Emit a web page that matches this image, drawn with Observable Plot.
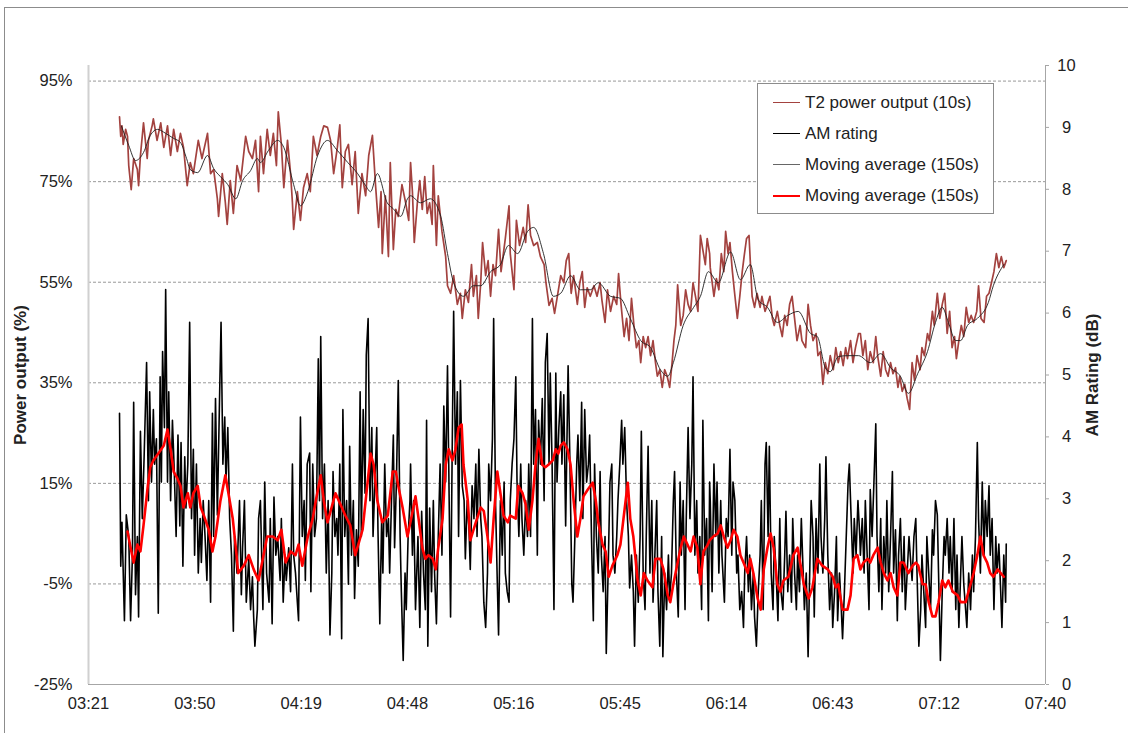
<!DOCTYPE html>
<html>
<head>
<meta charset="utf-8">
<script src="https://cdn.jsdelivr.net/npm/d3@7"></script>
<script src="https://cdn.jsdelivr.net/npm/@observablehq/plot@0.6"></script>
<style>
  html, body { margin: 0; padding: 0; background: #fff; overflow: hidden; }
  #wrap { position: relative; width: 1128px; height: 733px; font-family: "Liberation Sans", Arial, sans-serif; color: #222; }
  #border { position: absolute; left: 4px; top: 7px; width: 1200px; height: 800px; border: 1px solid #8c8c8c; box-sizing: border-box; }
  #chart { position: absolute; left: 0; top: 0; }
  #legend { position: absolute; left: 757px; top: 83px; width: 237px; height: 131px; border: 1px solid #8c8c8c; background: #fff; box-sizing: border-box; padding-top: 3px; }
  .row { height: 31px; display: flex; align-items: center; font-size: 17px; white-space: nowrap; }
  .sw { width: 27px; margin-left: 15px; margin-right: 5px; height: 0; }
  svg g[aria-label="y-axis label"] text { font-weight: bold; font-size: 17px; }
</style>
</head>
<body>
<div id="wrap">
  <div id="border"></div>
  <div id="chart"></div>
  <div id="legend"></div>
</div>
<script>
// ---------------- DATA (time = seconds after 03:30:00) ----------------
const startMinutes = 210; // 03:30

// T2 power output (10s), % of rated
const powerT2 = [[0,87.9],[20,84.0],[40,86.1],[60,82.4],[100,85.4],[130,84.0],[150,78.2],[190,73.4],[230,79.6],[290,77.4],[310,74.2],[340,80.2],[390,86.7],[450,79.6],[470,83.2],[530,86.1],[550,87.5],[610,83.2],[670,86.7],[720,81.8],[780,86.1],[830,80.2],[880,85.4],[940,81.0],[990,84.6],[1040,81.8],[1100,74.2],[1150,78.8],[1200,76.6],[1280,83.2],[1340,79.6],[1430,84.6],[1480,76.6],[1530,77.4],[1590,71.6],[1610,68.1],[1670,76.6],[1720,70.8],[1750,66.5],[1800,75.2],[1850,68.7],[1910,78.2],[1970,75.2],[2050,84.0],[2100,81.0],[2160,79.6],[2210,83.2],[2260,73.0],
[2290,84.0],[2340,76.6],[2400,85.4],[2450,80.2],[2500,84.6],[2550,78.2],[2580,88.9],[2630,82.4],[2670,73.8],[2730,83.2],[2780,76.6],[2810,70.8],[2830,65.5],[2890,73.0],[2940,67.3],[2990,73.8],[3050,76.6],[3100,73.0],[3150,84.0],[3210,80.2],[3270,84.0],[3320,86.1],[3380,85.8],[3430,83.2],[3480,76.6],[3540,81.8],[3580,86.3],[3620,73.8],[3670,81.0],[3720,82.4],[3780,74.4],[3830,81.0],[3880,68.7],[3940,76.6],[4000,72.2],[4050,80.2],[4110,84.2],[4160,74.4],[4210,65.9],[4250,73.0],[4270,60.7],[4320,72.2],[4370,60.1],[4400,78.8],[4450,61.5],[4490,69.5],[4530,68.1],[4590,74.4],[4650,70.8],[4700,67.3],
[4730,78.8],[4760,73.0],[4790,62.9],[4840,70.8],[4880,75.2],[4920,69.5],[4960,76.0],[5000,68.7],[5040,70.8],[5080,66.5],[5100,78.2],[5150,62.3],[5180,72.2],[5240,65.1],[5300,60.1],[5330,54.3],[5380,52.8],[5430,56.3],[5490,50.6],[5540,52.8],[5570,47.8],[5620,53.5],[5670,51.0],[5720,58.5],[5750,52.2],[5800,56.3],[5830,47.8],[5870,54.9],[5900,62.9],[5950,56.3],[5990,59.3],[6030,52.2],[6070,58.5],[6110,56.3],[6160,65.5],[6200,57.1],[6270,63.7],[6330,70.2],[6350,60.7],[6410,53.5],[6450,67.3],[6500,62.3],[6560,65.9],[6600,62.9],[6640,70.4],[6680,64.3],[6730,62.3],[6790,62.9],[6840,60.1],[6900,58.5],[6930,54.9],[6980,50.4],[7030,51.8],[7070,48.8],[7110,51.8],
[7170,56.3],[7220,54.9],[7260,59.3],[7300,60.7],[7340,52.8],[7380,56.3],[7440,50.6],[7480,54.9],[7520,57.1],[7560,50.0],[7600,53.9],[7650,52.2],[7710,54.3],[7760,52.2],[7810,54.9],[7840,51.4],[7890,47.0],[7930,53.5],[7980,49.2],[8030,52.2],[8080,50.6],[8110,56.7],[8150,50.6],[8200,44.2],[8240,47.8],[8280,43.4],[8320,51.8],[8360,46.4],[8400,42.0],[8440,43.4],[8470,39.0],[8510,44.2],[8550,42.0],[8590,44.2],[8630,40.4],[8670,43.4],[8710,39.0],[8740,36.3],[8780,37.6],[8820,34.1],[8860,37.6],[8900,36.3],[8940,34.1],[8980,39.0],[9010,43.4],[9040,46.4],[9070,54.5],[9120,46.4],[9160,48.4],[9200,53.5],[9240,50.6],[9280,49.2],[9320,54.9],[9360,52.2],[9400,49.2],[9440,64.3],[9490,60.7],[9520,58.5],[9550,63.7],[9590,60.7],
[9600,57.9],[9660,52.2],[9700,55.7],[9740,53.5],[9780,60.7],[9820,57.1],[9850,65.1],[9890,60.7],[9920,62.9],[9960,57.1],[9990,53.5],[10040,47.8],[10080,52.2],[10120,57.1],[10150,60.1],[10190,63.7],[10230,64.3],[10250,59.3],[10280,52.2],[10320,50.0],[10360,52.8],[10410,50.0],[10440,52.2],[10490,49.2],[10530,50.6],[10570,52.2],[10610,47.8],[10640,46.4],[10690,49.2],[10730,46.4],[10770,44.2],[10810,48.4],[10850,46.4],[10890,50.6],[10930,52.2],[10970,47.8],[11010,43.4],[11060,46.4],[11090,43.4],[11150,42.0],[11190,50.6],[11230,46.4],[11270,43.4],[11320,44.8],[11350,40.4],[11390,41.2],[11430,34.7],[11470,39.0],[11510,36.8],[11550,40.4],[11600,37.6],[11640,42.0],[11680,39.0],[11720,41.2],[11760,38.4],[11800,42.0],[11830,39.8],[11880,43.4],[11920,39.0],[11960,42.0],[12010,44.8],
[12040,44.8],[12080,40.4],[12120,43.4],[12160,37.6],[12200,41.2],[12250,39.0],[12290,44.2],[12320,40.4],[12370,36.3],[12410,41.2],[12450,37.6],[12490,36.3],[12530,39.0],[12570,36.8],[12610,38.0],[12650,34.1],[12680,36.3],[12720,33.3],[12760,34.7],[12800,31.9],[12840,29.7],[12880,39.0],[12920,35.5],[12960,40.4],[13010,37.6],[13040,42.0],[13080,40.4],[13130,44.8],[13160,43.4],[13210,49.2],[13240,46.4],[13290,52.8],[13330,47.8],[13370,50.6],[13410,52.8],[13450,44.8],[13490,49.2],[13530,42.0],[13570,44.2],[13600,39.8],[13640,43.4],[13680,46.4],[13720,44.2],[13760,50.0],[13800,47.0],[13840,48.4],[13880,47.0],[13930,49.2],[13960,54.3],[14000,47.8],[14050,47.0],[14090,52.2],[14130,52.8],[14170,54.9],[14210,57.1],[14250,60.7],[14290,57.9],[14330,60.1],[14370,57.9],[14410,59.3]];

// Moving average (150s) of power, %
const powerAvg = [[30,86.1],[150,82.2],[260,79.2],[390,80.8],[500,84.2],[620,85.4],[750,84.6],[880,83.6],[990,82.8],[1090,79.6],[1150,77.4],[1270,76.8],[1430,80.2],[1530,77.6],[1640,76.0],[1760,74.4],[1890,71.6],[2000,75.2],[2130,77.2],[2240,79.6],[2290,78.8],[2420,81.2],[2570,83.2],[2670,81.8],[2830,74.4],[2940,70.2],[3060,73.0],[3220,80.2],[3380,83.2],[3540,81.2],[3710,78.8],[3870,76.6],[4000,74.2],[4080,73.0],[4190,76.6],[4350,70.8],[4450,69.6],[4570,68.1],[4680,71.6],[4730,72.2],[4890,70.8],[5050,71.6],[5220,68.1],[5330,60.7],[5430,54.9],[5590,52.2],[5750,54.3],[5870,54.3],[6030,57.1],[6190,58.5],[6320,62.3],[6470,60.7],[6630,65.1],[6730,65.9],[6890,60.7],[7050,52.2],[7170,52.8],[7330,56.3],[7490,53.5],[7650,53.5],[7780,54.9],[7980,52.2],[8140,51.8],[8300,47.8],[8470,43.4],[8630,42.0],[8790,37.6],[8910,36.3],[9000,39.0],[9160,46.4],[9330,50.0],[9440,52.2],[9570,57.1],[9730,54.9],[9930,61.0],[10090,55.5],[10250,58.5],[10380,51.5],[10530,50.0],[10690,47.0],[10860,48.4],[11030,49.2],[11230,44.8],[11340,44.2],[11470,38.0],[11550,37.2],[11680,40.2],[11830,40.4],[12010,40.4],[12200,39.0],[12370,40.8],[12530,38.0],[12690,36.3],[12820,32.9],[12970,36.8],[13130,41.2],[13260,47.0],[13370,50.0],[13470,47.0],[13590,43.4],[13670,43.4],[13780,46.4],[13940,47.8],[14120,51.0],[14200,54.3],[14370,58.5]];

// AM rating, dB
const amRating = [[0,4.38],[20,1.91],[40,2.62],[80,1.03],[110,2.74],[150,2.39],[180,1.03],[210,2.09],[230,4.56],[260,1.45],[290,2.39],[310,1.09],[340,4.09],[370,2.68],[400,3.68],[440,5.20],[470,2.97],[490,4.73],[520,3.27],[550,4.44],[570,3.56],[600,3.97],[630,1.15],[660,4.97],[680,3.27],[700,5.38],[730,4.15],[750,6.38],[780,3.27],[800,4.73],[830,2.97],[860,4.27],[890,3.44],[920,2.39],[950,4.03],[980,2.56],[1000,3.91],[1030,1.91],[1060,3.68],[1080,2.85],[1110,3.56],[1140,5.85],[1170,2.68],[1200,3.80],[1220,2.09],[1250,3.56],[1280,1.80],[1310,2.68],[1330,1.97],[1360,2.97],[1390,2.39],[1420,1.68],[1450,2.97],[1480,1.33],[1510,4.38],[1530,2.39],[1560,4.62],[1590,2.74],[1630,4.85],[1650,5.85],[1680,3.56],[1710,4.32],[1730,3.27],[1760,4.15],[1790,2.68],[1820,2.09],[1850,0.86],[1870,2.39],[1910,1.80],[1950,2.97],[1980,1.45],[2000,2.21],[2030,2.97],[2060,1.33],[2100,2.03],[2130,1.21],[2160,1.74],[2180,1.09],[2200,0.62],[2240,1.21],[2260,2.68],
[2290,2.97],[2330,1.21],[2360,3.27],[2390,1.80],[2430,1.33],[2450,2.68],[2480,0.98],[2510,3.03],[2540,2.09],[2570,2.39],[2610,1.68],[2630,2.68],[2660,1.33],[2690,2.09],[2710,1.68],[2750,2.21],[2780,1.50],[2810,3.56],[2830,2.09],[2860,1.80],[2890,1.33],[2910,1.03],[2940,4.32],[2970,2.39],[3000,2.97],[3020,1.68],[3050,3.56],[3090,3.74],[3110,1.50],[3140,3.56],[3170,2.39],[3200,2.68],[3230,5.26],[3250,2.97],[3270,5.62],[3300,2.68],[3330,3.56],[3360,1.80],[3390,2.97],[3420,0.80],[3450,1.80],[3470,3.44],[3500,2.39],[3530,2.68],[3550,2.09],[3580,3.56],[3610,0.74],[3630,4.44],[3660,2.39],[3690,2.97],[3720,1.62],[3740,3.85],[3770,2.09],[3800,2.97],[3820,1.39],[3850,2.50],[3880,1.91],[3910,4.73],[3930,2.39],[3960,4.44],[3990,3.09],[4010,5.32],[4040,5.91],[4070,2.97],[4100,4.15],[4120,2.39],[4150,3.27],[4180,4.15],[4200,2.50],[4230,0.98],[4260,2.68],[4280,1.80],[4310,3.56],[4340,2.39],[4370,2.68],[4390,1.80],[4420,2.97],[4450,4.03],[4470,2.21],[4500,3.27],[4530,4.91],[4560,2.39],[4580,1.50],[4610,0.39],[4640,1.80],[4660,1.21],[4690,2.39],[4720,2.97],
[4730,3.56],[4760,2.09],[4780,2.97],[4810,1.21],[4850,2.39],[4880,0.92],[4910,2.80],[4940,1.80],[4970,1.21],[4990,4.27],[5010,0.62],[5040,2.85],[5070,1.50],[5100,2.97],[5120,1.80],[5150,0.98],[5180,2.39],[5210,3.56],[5240,2.09],[5270,4.50],[5300,3.27],[5330,5.15],[5350,3.56],[5380,1.09],[5410,4.15],[5430,6.03],[5460,3.56],[5490,4.73],[5510,2.39],[5540,4.91],[5570,3.21],[5600,2.97],[5620,2.03],[5650,2.97],[5680,2.50],[5700,1.86],[5730,3.21],[5760,2.68],[5790,3.56],[5810,2.39],[5840,3.80],[5870,2.68],[5890,2.39],[5920,1.33],[5950,0.92],[5980,1.80],[6000,3.56],[6030,2.97],[6060,3.97],[6080,5.91],[6110,2.97],[6140,1.62],[6160,0.80],[6190,2.97],[6220,2.09],[6250,3.27],[6270,1.80],[6300,1.50],[6330,1.33],[6350,2.97],[6380,3.56],[6410,3.97],[6440,4.97],[6460,3.27],[6490,2.39],[6520,3.56],[6540,2.68],[6570,2.09],[6600,2.97],[6630,2.39],[6650,3.56],[6680,2.39],[6710,5.91],[6730,3.56],[6760,4.44],[6790,2.09],[6810,4.27],[6840,3.56],[6870,4.62],[6900,2.97],[6920,5.20],[6950,5.67],[6980,3.56],[7000,5.03],[7030,3.56],[7060,1.21],[7090,5.03],[7110,3.27],[7140,4.15],
[7170,4.73],[7190,3.56],[7220,4.68],[7250,2.56],[7290,5.15],[7320,3.56],[7350,1.62],[7370,1.33],[7400,2.39],[7430,3.56],[7450,4.03],[7480,2.97],[7510,4.56],[7530,2.68],[7560,4.44],[7590,3.27],[7620,3.56],[7640,4.03],[7670,2.39],[7700,1.03],[7720,3.56],[7750,2.39],[7780,1.80],[7810,3.44],[7830,2.09],[7860,1.50],[7890,2.39],[7910,0.50],[7940,1.80],[7970,3.27],[8000,3.56],[8020,2.09],[8050,1.80],[8080,2.39],[8100,2.97],[8130,3.56],[8160,4.27],[8180,3.56],[8210,4.15],[8240,2.97],[8270,2.39],[8290,1.56],[8320,2.09],[8350,1.50],[8370,0.62],[8400,2.09],[8430,1.33],[8460,2.39],[8480,4.09],[8510,1.80],[8540,1.21],[8560,2.39],[8590,3.85],[8620,1.80],[8650,2.97],[8670,1.33],[8700,2.09],[8730,2.97],[8750,1.50],[8780,0.62],[8810,2.39],[8830,0.45],[8860,1.80],[8890,1.21],[8920,2.09],[8940,1.39],[8970,1.80],[9000,2.97],[9020,3.44],[9050,1.80],[9080,1.09],[9110,3.27],[9130,2.09],[9160,2.97],[9190,1.21],[9210,2.68],[9240,4.15],[9270,2.68],[9300,3.56],[9320,4.97],[9350,2.09],[9380,2.97],[9400,1.80],[9430,2.39],[9460,1.21],[9480,4.27],[9510,2.09],[9540,2.68],[9570,1.03],[9590,3.27],
[9600,2.97],[9630,1.50],[9660,3.56],[9690,2.39],[9710,3.27],[9740,1.80],[9770,2.97],[9790,2.09],[9830,1.33],[9860,2.68],[9890,2.39],[9920,3.80],[9950,2.09],[9970,3.27],[10000,2.97],[10030,1.80],[10050,2.09],[10080,1.21],[10110,1.50],[10140,0.92],[10160,1.80],[10190,2.39],[10220,1.50],[10240,2.09],[10270,1.21],[10300,1.80],[10320,1.09],[10350,0.62],[10380,1.50],[10410,2.09],[10430,2.97],[10460,1.21],[10490,3.56],[10510,3.91],[10540,2.39],[10560,3.85],[10590,1.80],[10620,1.21],[10640,2.39],[10670,1.80],[10700,1.03],[10730,2.68],[10750,1.50],[10780,1.21],[10810,2.09],[10830,2.80],[10860,1.50],[10890,2.09],[10920,1.33],[10940,2.68],[10970,1.80],[11000,1.21],[11020,2.09],[11050,1.50],[11080,2.68],[11100,2.09],[11130,1.21],[11160,1.80],[11190,0.45],[11210,1.50],[11240,2.97],[11270,2.39],[11290,1.09],[11320,2.68],[11350,1.80],[11380,3.56],[11400,2.39],[11430,1.80],[11460,2.68],[11480,3.68],[11510,2.09],[11540,1.21],[11570,1.80],[11590,0.92],[11620,1.50],[11650,2.39],[11670,1.03],[11700,1.80],[11730,1.21],[11750,0.74],[11780,1.50],[11810,2.39],[11840,3.27],[11860,3.56],[11890,2.68],[11920,1.80],[11940,2.68],[11970,2.09],[12000,2.97],[12030,2.39],
[12040,2.09],[12070,2.68],[12100,1.80],[12120,2.97],[12150,2.09],[12180,1.21],[12200,3.15],[12230,2.39],[12260,3.27],[12290,4.21],[12310,2.39],[12340,1.50],[12370,2.68],[12390,1.21],[12420,2.39],[12450,1.80],[12470,2.97],[12500,1.50],[12530,2.39],[12560,3.44],[12580,1.80],[12610,2.50],[12640,1.03],[12660,2.09],[12690,2.68],[12720,1.50],[12750,2.39],[12770,1.21],[12800,1.80],[12830,2.39],[12850,2.09],[12880,1.68],[12910,2.39],[12940,2.68],[12960,1.80],[12990,0.62],[13020,1.21],[13040,2.09],[13070,1.50],[13100,0.92],[13120,2.39],[13150,1.80],[13180,1.21],[13210,2.50],[13230,2.09],[13260,2.97],[13290,2.74],[13310,1.80],[13340,0.39],[13370,1.50],[13400,2.39],[13420,2.09],[13450,2.68],[13480,1.80],[13500,2.39],[13530,1.50],[13560,2.68],[13590,1.21],[13610,2.09],[13640,0.92],[13670,1.80],[13690,2.39],[13720,1.62],[13750,1.21],[13770,0.92],[13800,1.80],[13830,1.21],[13860,2.09],[13880,1.50],[13910,2.39],[13940,3.91],[13960,2.68],[13990,1.80],[14020,3.27],[14050,2.09],[14070,2.97],[14100,2.39],[14130,3.21],[14150,2.09],[14180,2.68],[14210,1.21],[14240,2.39],[14260,1.80],[14290,2.27],[14320,1.50],[14340,0.92],[14370,2.09],[14400,1.33],[14410,2.27]];

// Moving average (150s) of AM rating, dB
const amAvg = [[130,2.47],[180,2.21],[230,1.97],[290,2.26],[340,2.15],[390,2.57],[460,3.21],[500,3.51],[550,3.62],[630,3.73],[720,3.86],[780,4.12],[830,3.80],[880,3.44],[940,3.33],[990,3.21],[1040,2.86],[1110,3.09],[1150,2.86],[1200,3.09],[1270,3.21],[1320,2.86],[1370,2.73],[1450,2.50],[1510,2.15],[1560,2.39],[1640,2.97],[1720,3.38],[1770,3.09],[1840,2.68],[1890,2.21],[1930,1.80],[2020,1.92],[2100,2.09],[2180,1.86],[2260,1.68],
[2340,2.09],[2400,2.39],[2490,2.39],[2570,2.33],[2630,2.50],[2700,1.97],[2780,2.15],[2860,2.09],[2910,2.26],[2970,1.92],[3060,2.39],[3140,2.68],[3190,2.97],[3270,3.38],[3320,2.97],[3380,2.62],[3430,2.80],[3510,3.09],[3590,2.91],[3670,2.73],[3750,2.57],[3830,2.09],[3880,2.26],[3950,2.50],[4000,2.97],[4080,3.73],[4130,3.55],[4190,2.97],[4270,2.62],[4360,2.73],[4440,3.44],[4490,3.44],[4530,3.21],[4600,2.86],[4680,2.39],
[4740,2.68],[4810,3.04],[4860,2.68],[4920,2.21],[4970,2.03],[5020,2.09],[5090,2.03],[5140,1.86],[5180,2.21],[5250,2.68],[5300,3.55],[5350,3.80],[5410,3.62],[5460,3.80],[5510,4.15],[5560,4.20],[5590,3.55],[5660,2.97],[5700,2.33],[5790,2.62],[5870,2.86],[5920,2.80],[5980,2.39],[6030,1.97],[6080,2.68],[6140,3.44],[6190,3.09],[6240,2.73],[6310,2.62],[6350,2.73],[6440,2.68],[6480,3.21],[6550,3.09],[6600,2.91],[6650,2.50],[6710,2.97],[6760,3.55],[6810,3.97],[6870,3.55],[6920,3.51],[6970,3.55],[7040,3.62],[7090,3.80],[7130,3.73],
[7170,3.86],[7220,3.91],[7280,3.80],[7330,3.55],[7380,2.97],[7440,2.39],[7490,2.68],[7540,3.04],[7610,3.15],[7690,3.26],[7740,2.97],[7780,2.62],[7850,2.26],[7900,2.15],[7950,1.74],[8010,1.92],[8090,2.09],[8140,2.26],[8190,2.68],[8260,3.26],[8300,2.68],[8350,2.39],[8420,1.68],[8470,1.44],[8520,1.80],[8580,1.68],[8660,1.57],[8710,2.03],[8790,2.03],[8840,1.86],[8910,1.44],[8950,1.33],[9000,1.62],[9070,1.97],[9120,2.21],[9170,2.39],[9230,2.26],[9280,2.15],[9330,2.39],[9390,2.21],[9440,1.62],[9490,2.15],[9560,2.26],[9590,2.33],
[9650,2.39],[9720,2.44],[9770,2.57],[9820,2.39],[9880,2.21],[9930,2.33],[9980,2.50],[10040,2.39],[10090,2.09],[10140,1.97],[10210,1.80],[10250,2.03],[10300,1.80],[10370,1.39],[10420,1.21],[10470,1.86],[10530,2.21],[10580,2.44],[10630,2.21],[10690,1.62],[10740,1.50],[10790,1.68],[10870,1.74],[10950,2.09],[11020,2.21],[11070,1.92],[11120,1.62],[11200,1.39],[11260,1.57],[11340,2.03],[11420,1.92],[11510,1.86],[11590,1.74],[11640,1.57],[11680,1.62],[11750,1.21],[11830,1.21],[11880,1.44],[11930,2.03],[11990,2.09],
[12040,1.86],[12090,1.97],[12160,2.03],[12200,1.97],[12250,2.09],[12320,2.21],[12370,1.97],[12420,1.80],[12480,1.68],[12530,1.80],[12580,1.57],[12640,1.44],[12690,1.97],[12740,1.97],[12820,1.80],[12890,1.92],[12940,1.97],[12980,1.92],[13050,1.62],[13100,1.62],[13150,1.33],[13210,1.10],[13260,1.10],[13310,1.33],[13370,1.68],[13420,1.57],[13470,1.68],[13540,1.50],[13620,1.44],[13670,1.33],[13750,1.33],[13830,1.62],[13880,1.80],[13940,2.09],[13990,2.39],[14040,2.09],[14100,1.97],[14150,1.80],[14200,1.74],[14270,1.86],[14320,1.80],[14370,1.74]];

// Axis ticks & labels
const timeTickLabels = ["03:21","03:50","04:19","04:48","05:16","05:45","06:14","06:43","07:12","07:40"];
const powerTicks = [-25, -5, 15, 35, 55, 75, 95];
const amTicks = [0,1,2,3,4,5,6,7,8,9,10];
const legendItems = [
  {label: "T2 power output (10s)", color: "#a3423f", width: 1.5},
  {label: "AM rating", color: "#000000", width: 1.5},
  {label: "Moving average (150s)", color: "#666666", width: 1},
  {label: "Moving average (150s)", color: "#ff0000", width: 2.6}
];

// ---------------- CHART ----------------
const xMin = 201.6, xMax = 460.8;         // minutes since midnight (0.14 d .. 0.32 d)
const xTickVals = d3.range(10).map(i => (2016 + 288 * i) / 10);
const yMin = -25, yMax = 98.1;            // left axis (%)
const K = (yMax - yMin) / 10;             // % units per dB on right axis
const tMin = s => startMinutes + s / 60;
const amY = v => yMin + v * K;

const chart = Plot.plot({
  width: 1128,
  height: 733,
  marginLeft: 88,
  marginRight: 83,
  marginTop: 65,
  marginBottom: 49,
  style: {fontFamily: "'Liberation Sans', Arial, sans-serif", fontSize: "16.5px", color: "#222", background: "transparent"},
  x: {domain: [xMin, xMax]},
  y: {domain: [yMin, yMax]},
  marks: [
    Plot.gridY(powerTicks.filter(d => d > yMin), {stroke: "#7f7f7f", strokeOpacity: 1, strokeWidth: 0.8, strokeDasharray: "3,2"}),
    Plot.ruleY([yMin], {stroke: "#a6a6a6", strokeWidth: 1}),
    Plot.ruleX([xMax], {stroke: "#a6a6a6", strokeWidth: 1}),
    Plot.ruleX([xMin], {stroke: "#d0d0d0", strokeWidth: 2}),
    Plot.axisX({ticks: xTickVals, tickFormat: (d, i) => timeTickLabels[i], tickSize: 0, tickPadding: 13, label: null, fill: "#222"}),
    Plot.axisY({ticks: powerTicks, tickFormat: d => d + "%", tickSize: 0, tickPadding: 16, fill: "#222",
      label: "Power output (%)", labelAnchor: "center", labelOffset: 75, labelArrow: "none"}),
    Plot.axisY({anchor: "right", ticks: amTicks.map(amY), tickFormat: d => String(Math.round((d - yMin) / K)),
      tickSize: 3, tickPadding: 18, textAnchor: "middle", stroke: "#a6a6a6", fill: "#222",
      label: "AM Rating (dB)", labelAnchor: "center", labelOffset: 52, labelArrow: "none"}),
    Plot.line(powerT2, {x: d => tMin(d[0]), y: d => d[1], stroke: "#a3423f", strokeWidth: 1.7}),
    Plot.line(powerAvg, {x: d => tMin(d[0]), y: d => d[1], stroke: "#1e1e1e", strokeWidth: 0.9, curve: "monotone-x"}),
    Plot.line(amRating, {x: d => tMin(d[0]), y: d => amY(d[1]), stroke: "#000", strokeWidth: 1.6}),
    Plot.line(amAvg, {x: d => tMin(d[0]), y: d => amY(d[1]), stroke: "#ff0000", strokeWidth: 2.6})
  ]
});
document.getElementById("chart").appendChild(chart);

// Legend
const legend = d3.select("#legend");
legendItems.forEach(it => {
  const row = legend.append("div").attr("class", "row");
  row.append("div").attr("class", "sw").style("border-top", `${it.width}px solid ${it.color}`);
  row.append("span").text(it.label);
});
</script>
</body>
</html>
